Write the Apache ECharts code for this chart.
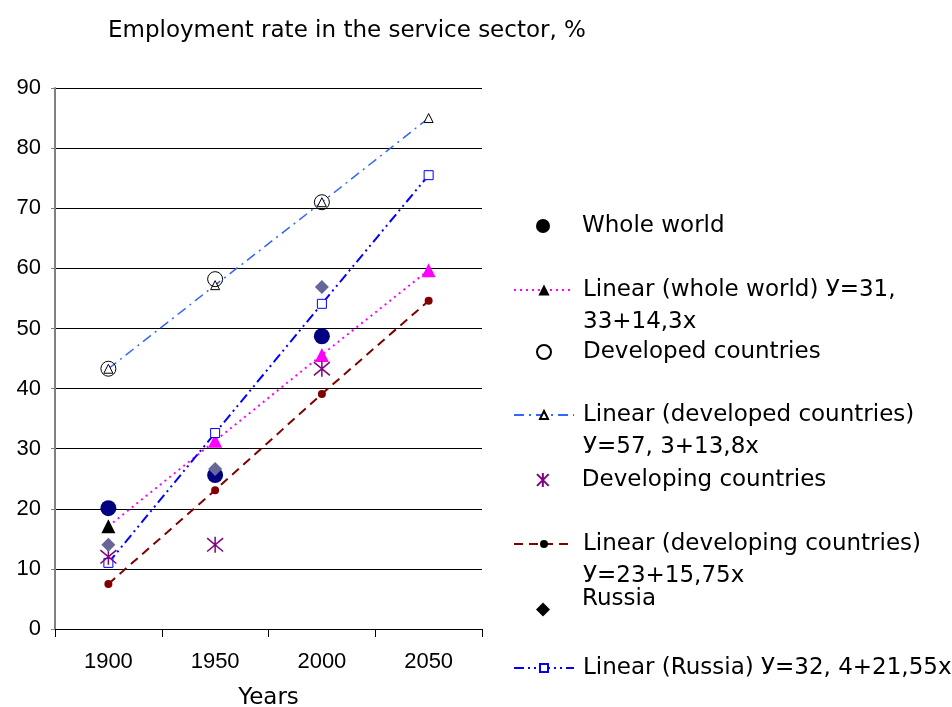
<!DOCTYPE html>
<html>
<head>
<meta charset="utf-8">
<script src="https://cdn.jsdelivr.net/npm/echarts@6/dist/echarts.min.js"></script>
<style>
html, body { margin: 0; padding: 0; background: #fff; }
#main { width: 952px; height: 707px; }
</style>
</head>
<body>
<div id="main"></div>
<script>
// data
var years = ['1900', '1950', '2000', '2050'];
var wholeWorld = [20.1, 25.6, 48.7, null];
var wholeWorldTrend = [17.1, 31.3, 45.6, 59.7];
var developed = [43.3, 58.2, 71.0, null];
var developedTrend = [43.3, 57.2, 71.0, 85.0];
var developing = [12.0, 14.0, 43.3, null];
var developingTrend = [7.5, 23.1, 39.1, 54.6];
var russia = [14.0, 26.6, 56.9, null];
var russiaTrend = [11.0, 32.6, 54.1, 75.5];

var FONT = 'DejaVu Sans';
var NUMFONT = 'Liberation Sans';
var asterisk = 'path://M0,0L10,10M10,0L0,10M5,-1L5,11';

var names = {
	ww: 'Whole world',
	wwT: 'Linear (whole world) У=31,',
	dv: 'Developed countries',
	dvT: 'Linear (developed countries)',
	dg: 'Developing countries',
	dgT: 'Linear (developing countries)',
	ru: 'Russia',
	ruT: 'Linear (Russia) У=32, 4+21,55x'
};
var secondLine = {};
secondLine[names.wwT] = '33+14,3x';
secondLine[names.dvT] = 'У=57, 3+13,8x';
secondLine[names.dgT] = 'У=23+15,75x';

// one legend per entry so each sits where the original puts it
function legendFor(name, iconY, isLine, itemStyle, raised, iconH) {
	var two = !!secondLine[name];
	var lh = raised ? 20 : 32;
	var boxH = two ? 96 : (raised ? 40 : 32);
	var lg = {
		data: [itemStyle ? {name: name, itemStyle: itemStyle} : name],
		top: iconY - boxH / 2,
		padding: 0,
		selectedMode: false,
		formatter: function (n) {
			if (secondLine[n]) return '\n' + n + '\n' + secondLine[n];
			return raised ? n + '\n' : n;
		},
		textStyle: {fontFamily: FONT, fontSize: 23, color: '#000', lineHeight: lh}
	};
	if (isLine) {
		lg.left = 513;
		lg.itemWidth = 60;
		lg.itemHeight = iconH || 10;
		lg.textStyle.padding = [0, 0, 0, 4];
	} else {
		lg.left = 536;
		lg.itemWidth = 14;
		lg.itemHeight = 14;
		lg.textStyle.padding = [0, 0, 0, 27];
	}
	return lg;
}

var myChart = echarts.init(document.getElementById('main'));

myChart.setOption({
	animation: false,
	title: {
		text: 'Employment rate in the service sector, %',
		left: 103,
		top: 11,
		textStyle: {fontFamily: FONT, fontSize: 23, lineHeight: 30, fontWeight: 'normal', color: '#000'}
	},
	legend: [
		legendFor(names.ww, 226, false, {color: '#000'}),
		legendFor(names.wwT, 290, true, {color: '#000'}, false, 14),
		legendFor(names.dv, 352, false),
		legendFor(names.dvT, 415, true),
		legendFor(names.dg, 480, false),
		legendFor(names.dgT, 544, true, {color: '#000'}),
		legendFor(names.ru, 608, false, {color: '#000'}, true),
		legendFor(names.ruT, 668, true)
	],
	grid: {left: 55, right: 470, top: 88, bottom: 78, outerBoundsMode: 'none'},
	xAxis: {
		type: 'category',
		data: years,
		boundaryGap: true,
		name: 'Years',
		nameLocation: 'middle',
		nameGap: 58,
		nameTextStyle: {fontFamily: FONT, fontSize: 23, color: '#000'},
		axisLine: {lineStyle: {color: '#000', width: 1}},
		axisTick: {show: true, length: 8, lineStyle: {color: '#000'}},
		axisLabel: {fontFamily: NUMFONT, fontSize: 22, color: '#000', margin: 22}
	},
	yAxis: {
		type: 'value',
		min: 0,
		max: 90,
		interval: 10,
		axisLine: {show: true, lineStyle: {color: '#808080', width: 2}},
		axisTick: {show: true, length: 4, lineStyle: {color: '#808080'}},
		axisLabel: {fontFamily: NUMFONT, fontSize: 22, color: '#000', margin: 14},
		splitLine: {lineStyle: {color: '#000', width: 1}}
	},
	series: [
		{
			name: names.wwT, type: 'line', data: wholeWorldTrend.map(function (v, i) {
				return i === 0 ? {value: v, itemStyle: {color: '#000'}} : v;
			}),
			symbol: 'triangle', symbolSize: 14, showAllSymbol: true,
			itemStyle: {color: '#ff00ff'},
			lineStyle: {color: '#ff00ff', width: 2, type: [2, 4]}, z: 2
		},
		{
			name: names.dvT, type: 'line', data: developedTrend,
			symbol: 'triangle', symbolSize: 9, showAllSymbol: true,
			itemStyle: {color: '#fff', borderColor: '#000', borderWidth: 1},
			lineStyle: {color: '#3366ff', width: 1.5, type: [10, 5, 2, 5]}, z: 2
		},
		{
			name: names.dgT, type: 'line', data: developingTrend,
			symbol: 'circle', symbolSize: 8, showAllSymbol: true,
			itemStyle: {color: '#800000'},
			lineStyle: {color: '#800000', width: 2, type: [9, 6]}, z: 2
		},
		{
			name: names.ruT, type: 'line', data: russiaTrend,
			symbol: 'rect', symbolSize: 9, showAllSymbol: true,
			itemStyle: {color: '#fff', borderColor: '#0000ff', borderWidth: 1},
			lineStyle: {color: '#0000ff', width: 2, type: [10, 4, 2, 4, 2, 4]}, z: 2
		},
		{
			name: names.ww, type: 'scatter', data: wholeWorld,
			symbol: 'circle', symbolSize: 16,
			itemStyle: {color: '#000080', opacity: 1}, z: 3
		},
		{
			name: names.dv, type: 'scatter', data: developed,
			symbol: 'circle', symbolSize: 15,
			itemStyle: {color: 'rgba(255,255,255,0)', borderColor: '#000', borderWidth: 1, opacity: 1}, z: 3
		},
		{
			name: names.dg, type: 'scatter', data: developing,
			symbol: asterisk, symbolSize: 16,
			itemStyle: {color: 'rgba(0,0,0,0)', borderColor: '#800080', borderWidth: 1.5, opacity: 1}, z: 3
		},
		{
			name: names.ru, type: 'scatter', data: russia,
			symbol: 'diamond', symbolSize: 14,
			itemStyle: {color: '#666699', opacity: 1}, z: 3
		}
	]
});
</script>
</body>
</html>
